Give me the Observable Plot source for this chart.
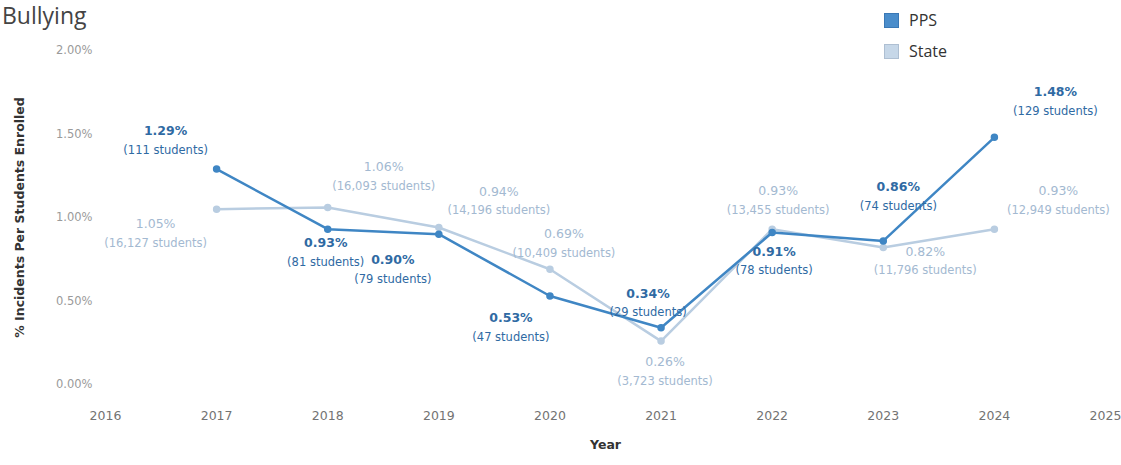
<!DOCTYPE html>
<html>
<head>
<meta charset="utf-8">
<script src="https://cdn.jsdelivr.net/npm/d3@7"></script>
<script src="https://cdn.jsdelivr.net/npm/@observablehq/plot@0.6"></script>
<style>
  html, body { margin: 0; padding: 0; background: #fff; }
  #wrap { position: relative; width: 1121px; height: 465px; overflow: hidden; font-family: "Open Sans", sans-serif; }
  #title { position: absolute; left: 2px; top: 2px; font-size: 23px; line-height: 26px; color: #444; }
  #legend { position: absolute; left: 884px; top: 5px; font-size: 16px; color: #333; line-height: 31px; }
  .sw { display: inline-block; width: 15px; height: 15px; margin-right: 10px; vertical-align: -2px; box-sizing: border-box; }
  #chart { position: absolute; left: 0; top: 0; }
</style>
</head>
<body>
<div id="wrap">
  <div id="chart"></div>
  <div id="title">Bullying</div>
  <div id="legend"></div>
</div>
<script>
// ---- data ----
const years = [2017, 2018, 2019, 2020, 2021, 2022, 2023, 2024];
const ppsPct = [1.29, 0.93, 0.90, 0.53, 0.34, 0.91, 0.86, 1.48];
const ppsStudents = [111, 81, 79, 47, 29, 78, 74, 129];
const statePct = [1.05, 1.06, 0.94, 0.69, 0.26, 0.93, 0.82, 0.93];
const stateStudents = [16127, 16093, 14196, 10409, 3723, 13455, 11796, 12949];
const xTicks = [2016, 2017, 2018, 2019, 2020, 2021, 2022, 2023, 2024, 2025];
const yTicks = [0, 0.5, 1.0, 1.5, 2.0];
const seriesNames = ["PPS", "State"];

// ---- styles / label placement ----
const ppsColor = "#3f86c4", stateColor = "#b9cde1";
const ppsLabelColor = "#2f6aa3", stateLabelColor = "#a3b9d1";
const ppsOffsets = [[-51, -38], [-2, 14], [-46, 26], [-39, 22], [-13, -34], [2, 19], [15, -54], [61, -45]];
const stateOffsets = [[-61, 15], [56, -40], [60, -36], [14, -35], [4, 21], [6, -38], [42, 4], [64, -38]];
const chartFont = "DejaVu Sans, sans-serif";

const pps = years.map((year, i) => ({year, pct: ppsPct[i], n: ppsStudents[i]}));
const state = years.map((year, i) => ({year, pct: statePct[i], n: stateStudents[i]}));
const fmtN = d3.format(",");

function labels(data, offsets, color, weight) {
  const marks = [];
  data.forEach((d, i) => {
    const [dx, dy] = offsets[i];
    marks.push(Plot.text([d], {x: "year", y: "pct", text: d => d.pct.toFixed(2) + "%", dx, dy,
      fill: color, fontSize: 12.5, fontWeight: weight}));
    marks.push(Plot.text([d], {x: "year", y: "pct", text: d => `(${fmtN(d.n)} students)`, dx, dy: dy + 19,
      fill: color, fontSize: 11.5}));
  });
  return marks;
}

const chart = Plot.plot({
  width: 1121,
  height: 465,
  marginTop: 50,
  marginBottom: 81,
  marginLeft: 105,
  marginRight: 16,
  style: {fontFamily: chartFont, background: "transparent"},
  x: {domain: [2016, 2025]},
  y: {domain: [0, 2]},
  marks: [
    Plot.axisY({ticks: yTicks, tickFormat: d => d.toFixed(2) + "%", tickSize: 0, tickPadding: 13,
      label: null, fill: "#9a9a9a", fontSize: 11.5}),
    Plot.axisX({ticks: xTicks, tickFormat: d => String(d), tickSize: 0, tickPadding: 27,
      label: null, fill: "#737373", fontSize: 12.5}),
    Plot.text(["% Incidents Per Students Enrolled"], {frameAnchor: "left", rotate: -90, dx: -86,
      textAnchor: "middle", fill: "#333", fontWeight: "bold", fontSize: 12.5}),
    Plot.text(["Year"], {frameAnchor: "bottom", dy: 64, textAnchor: "middle", fill: "#333", fontWeight: "bold", fontSize: 12.5}),
    Plot.line(state, {x: "year", y: "pct", stroke: stateColor, strokeWidth: 2.5}),
    Plot.dot(state, {x: "year", y: "pct", r: 3, fill: stateColor, stroke: stateColor}),
    Plot.line(pps, {x: "year", y: "pct", stroke: ppsColor, strokeWidth: 2.5}),
    Plot.dot(pps, {x: "year", y: "pct", r: 3, fill: ppsColor, stroke: ppsColor}),
    ...labels(state, stateOffsets, stateLabelColor, "normal"),
    ...labels(pps, ppsOffsets, ppsLabelColor, "600")
  ]
});
document.getElementById("chart").appendChild(chart);

const legendColors = ["#4a8dcb", "#c6d7e8"];
const legend = document.getElementById("legend");
seriesNames.forEach((name, i) => {
  const row = document.createElement("div");
  row.innerHTML = `<span class="sw" style="background:${legendColors[i]};border:1px solid ${i ? "#aebfd2" : "#3a78b5"}"></span>${name}`;
  legend.appendChild(row);
});
</script>
</body>
</html>
